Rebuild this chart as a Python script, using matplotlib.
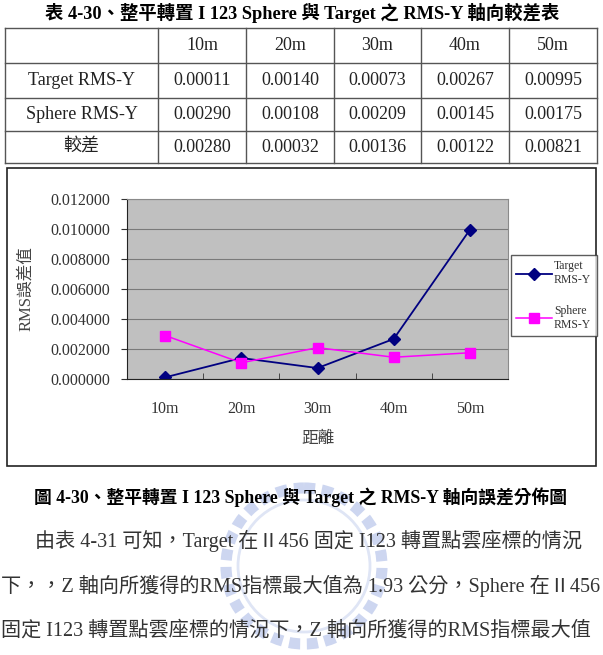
import matplotlib.pyplot as plt
import matplotlib.patches as patches
import numpy as np

# table / chart data
distances = ['10m', '20m', '30m', '40m', '50m']
target_rms = [0.00011, 0.00140, 0.00073, 0.00267, 0.00995]
sphere_rms = [0.00290, 0.00108, 0.00209, 0.00145, 0.00175]
diff_rms = [0.00280, 0.00032, 0.00136, 0.00122, 0.00821]
row_names = ['Target RMS-Y', 'Sphere RMS-Y', '較差']
y_ticks = [0.0, 0.002, 0.004, 0.006, 0.008, 0.010, 0.012]

title_txt = '表 4-30、整平轉置 I 123 Sphere 與 Target 之 RMS-Y 軸向較差表'
caption_txt = '圖 4-30、整平轉置 I 123 Sphere 與 Target 之 RMS-Y 軸向誤差分佈圖'
body_lines = ['由表 4-31 可知，Target 在Ⅱ456 固定 I123 轉置點雲座標的情況',
              '下，，Z 軸向所獲得的RMS指標最大值為 1.93 公分，Sphere 在Ⅱ456',
              '固定 I123 轉置點雲座標的情況下，Z 軸向所獲得的RMS指標最大值']

serif = ['Liberation Serif', 'Noto Sans CJK TC']
W, H = 603, 655

fig = plt.figure(figsize=(W / 100, H / 100), dpi=100)

# page in pixel coordinates
page = fig.add_axes([0, 0, 1, 1])
page.set_xlim(0, W)
page.set_ylim(H, 0)
page.axis('off')

page.text(302, 13, title_txt, ha='center', va='center', fontsize=13.2,
          fontweight='bold', family=serif)

# table grid
col_x = [5, 158, 246, 334, 421, 509, 597]
row_y = [28, 63, 98, 131, 163]
for x in col_x:
    page.plot([x, x], [row_y[0], row_y[-1]], color='#555555', lw=1)
for y in row_y:
    page.plot([col_x[0], col_x[-1]], [y, y], color='#555555', lw=1)

def cell_center(c, r):
    return (col_x[c] + col_x[c + 1]) / 2, (row_y[r] + row_y[r + 1]) / 2

for i, d in enumerate(distances):
    cx, cy = cell_center(i + 1, 0)
    page.text(cx, cy, d, ha='center', va='center', fontsize=13, family=serif, color='#222222')
for r, (name, vals) in enumerate(zip(row_names, [target_rms, sphere_rms, diff_rms])):
    cx, cy = cell_center(0, r + 1)
    page.text(cx, cy, name, ha='center', va='center', fontsize=13, family=serif, color='#222222')
    for i, v in enumerate(vals):
        cx, cy = cell_center(i + 1, r + 1)
        page.text(cx, cy, f'{v:.5f}', ha='center', va='center', fontsize=13,
                  family=serif, color='#222222')

# chart frame
page.add_patch(patches.Rectangle((7, 168), 589, 298, fill=False, edgecolor='#222222', lw=1.2))

# faint watermark ring
page.add_patch(patches.Circle((304, 566), 78, fill=False, edgecolor='#cdd6f0', lw=8,
                              linestyle=(0, (1, 0.6)), zorder=0))
page.add_patch(patches.Circle((304, 566), 66, fill=False, edgecolor='#dfe5f5', lw=2, zorder=0))

page.text(300, 497, caption_txt, ha='center', va='center', fontsize=12.8,
          fontweight='bold', family=serif)
page.text(35, 541, body_lines[0], ha='left', va='center', fontsize=14.5, family=serif, color='#333333')
page.text(1, 586, body_lines[1], ha='left', va='center', fontsize=14.5, family=serif, color='#333333')
page.text(1, 631, body_lines[2], ha='left', va='center', fontsize=14.5, family=serif, color='#333333')

# the chart itself
ax = fig.add_axes([127 / W, 1 - 379 / H, 381 / W, 180 / H])
ax.set_facecolor('#C0C0C0')
x = np.arange(len(distances))
ax.plot(x, target_rms, color='#000080', lw=1.3, marker='D', markersize=6.5,
        label='Target\nRMS-Y')
ax.plot(x, sphere_rms, color='#FF00FF', lw=1.1, marker='s', markersize=7.5,
        label='Sphere\nRMS-Y')
ax.set_xlim(-0.5, len(distances) - 0.5)
ax.set_ylim(0, 0.012)
ax.set_yticks(y_ticks)
ax.set_yticklabels([f'{v:.6f}' for v in y_ticks], family=serif, fontsize=11.5, color='#333333')
ax.set_xticks(x)
ax.set_xticklabels(distances, family=serif, fontsize=11.5, color='#333333')
ax.set_xticks(np.arange(0.5, len(distances) - 0.5), minor=True)
ax.tick_params(axis='x', which='major', length=0, pad=16)
ax.tick_params(axis='x', which='minor', direction='in', length=4, color='#333333')
ax.tick_params(axis='y', direction='out', length=4, pad=8, color='#333333')
ax.grid(axis='y', color='#7a7a7a', lw=0.8)
ax.set_axisbelow(True)
for s in ['top', 'right']:
    ax.spines[s].set_color('#8a8a8a')
for s in ['left', 'bottom']:
    ax.spines[s].set_color('#222222')
ax.set_xlabel('距離', family=serif, fontsize=12, color='#444444', labelpad=10)
ax.set_ylabel('RMS誤差值', family=serif, fontsize=12, color='#444444', labelpad=12)

leg = fig.legend(loc='upper left', bbox_to_anchor=(511 / W, 1 - 255 / H),
                 prop={'family': serif, 'size': 8.5}, frameon=True, fancybox=False,
                 edgecolor='#333333', handlelength=3.0, handletextpad=0.2,
                 borderpad=0.45, labelspacing=1.6, borderaxespad=0)
leg.get_frame().set_linewidth(1)
for t in leg.get_texts():
    t.set_color('#333333')

fig.savefig('out.png', dpi=100)
